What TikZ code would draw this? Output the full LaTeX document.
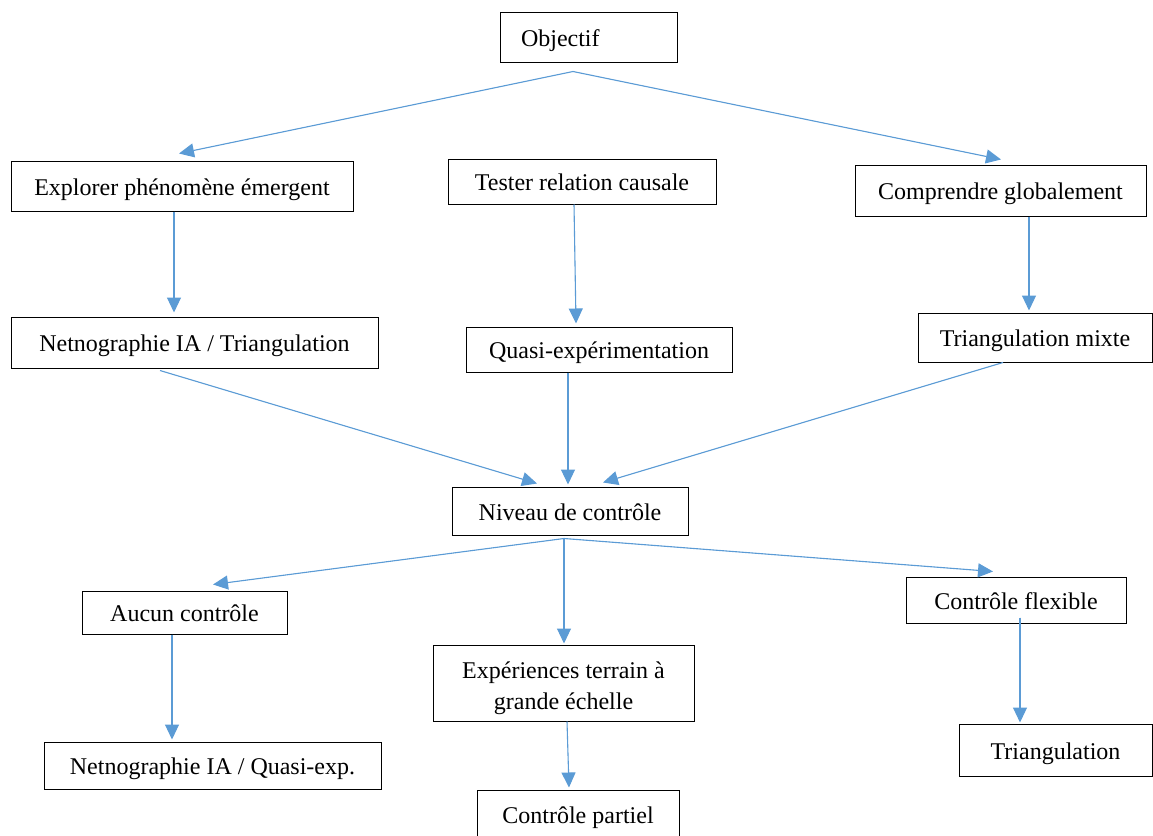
\documentclass[tikz,border=0pt]{standalone}
\usepackage{fontspec}
\setmainfont{Liberation Serif}
\usetikzlibrary{calc, arrows.meta, positioning}
\definecolor{linkblue}{HTML}{5B9BD5}

\begin{document}
\begin{tikzpicture}[
    x=1pt, y=-1pt,
    >={Triangle[length=15pt, width=14pt]},
    font=\fontsize{24}{31}\selectfont,
    box/.style={draw, line width=1pt, align=center, inner xsep=0pt, inner ysep=0pt, text height=19pt, text depth=1pt},
    link/.style={->, draw=linkblue, fill=linkblue, line width=1.1pt}
]
\useasboundingbox (0,0) rectangle (1153,835);

\node[box, minimum width=177pt, minimum height=50pt, text width=135pt, inner xsep=21pt, align=left] (obj) at (588.5,37) {Objectif};
\node[box, minimum width=342pt, minimum height=50pt] (explore) at (182,186) {Explorer phénomène émergent};
\node[box, minimum width=268pt, minimum height=45pt] (tester) at (582,181.5) {Tester relation causale};
\node[box, minimum width=291pt, minimum height=51pt] (comprendre) at (1000.5,190.5) {Comprendre globalement};
\node[box, minimum width=367pt, minimum height=51pt] (netnotri) at (194.5,342.5) {Netnographie IA / Triangulation};
\node[box, minimum width=266pt, minimum height=45pt] (quasi) at (599,349.5) {Quasi-expérimentation};
\node[box, minimum width=234pt, minimum height=49pt] (trimixte) at (1035,337.5) {Triangulation mixte};
\node[box, minimum width=236pt, minimum height=48pt] (niveau) at (570,511) {Niveau de contrôle};
\node[box, minimum width=205pt, minimum height=43pt] (aucun) at (184.5,612.5) {Aucun contrôle};
\node[box, minimum width=261pt, minimum height=76pt, text height=52pt, text depth=0pt] (terrain) at (563.5,683) {Expériences terrain à\\grande échelle};
\node[box, minimum width=220pt, minimum height=46pt] (flexible) at (1016,600) {Contrôle flexible};
\node[box, minimum width=337pt, minimum height=47pt] (netnoquasi) at (212.5,765.5) {Netnographie IA / Quasi-exp.};
\node[box, minimum width=193pt, minimum height=52pt] (triang) at (1055.5,750) {Triangulation};
\node[box, minimum width=202pt, minimum height=48pt] (partiel) at (578,814) {Contrôle partiel};

% objectif vers les trois buts
\draw[link] ($(obj.south)+(-15.5,9)$) -- ($(explore.north)+(-3,-7)$);
\draw[link] ($(obj.south)+(-15.5,9)$) -- ($(comprendre.north)+(0.5,-5)$);

% buts vers methodes
\draw[link] ($(explore.south)+(-8,0)$) -- ($(netnotri.north)+(-20.5,-4)$);
\draw[link] ($(tester.south)+(-8,0)$) -- ($(quasi.north)+(-23,-3)$);
\draw[link] ($(comprendre.south)+(28.5,0)$) -- ($(trimixte.north)+(-6,-2)$);

% methodes vers niveau de controle
\draw[link] ($(netnotri.south)+(-34.5,2)$) -- ($(niveau.north)+(-33,-3)$);
\draw[link] ($(quasi.south)+(-31,0)$) -- ($(niveau.north)+(-2,-2)$);
\draw[link] ($(trimixte.south)+(-32,0)$) -- ($(niveau.north)+(33,-4)$);

% niveau de controle vers les cas
\draw[link] ($(niveau.south)+(-6,3)$) -- ($(aucun.north)+(28.5,-6)$);
\draw[link] ($(niveau.south)+(-6,3)$) -- ($(terrain.north)+(0.5,-1)$);
\draw[link] ($(niveau.south)+(-6,3)$) -- ($(flexible.north)+(-23,-5)$);

\draw[link] ($(aucun.south)+(-12.5,0)$) -- ($(netnoquasi.north)+(-40.5,-2)$);
\draw[link] ($(terrain.south)+(3.5,0)$) -- ($(partiel.north)+(-9,-2)$);
\draw[link] ($(flexible.south)+(4,-6)$) -- ($(triang.north)+(-35.5,-1)$);
\end{tikzpicture}
\end{document}
